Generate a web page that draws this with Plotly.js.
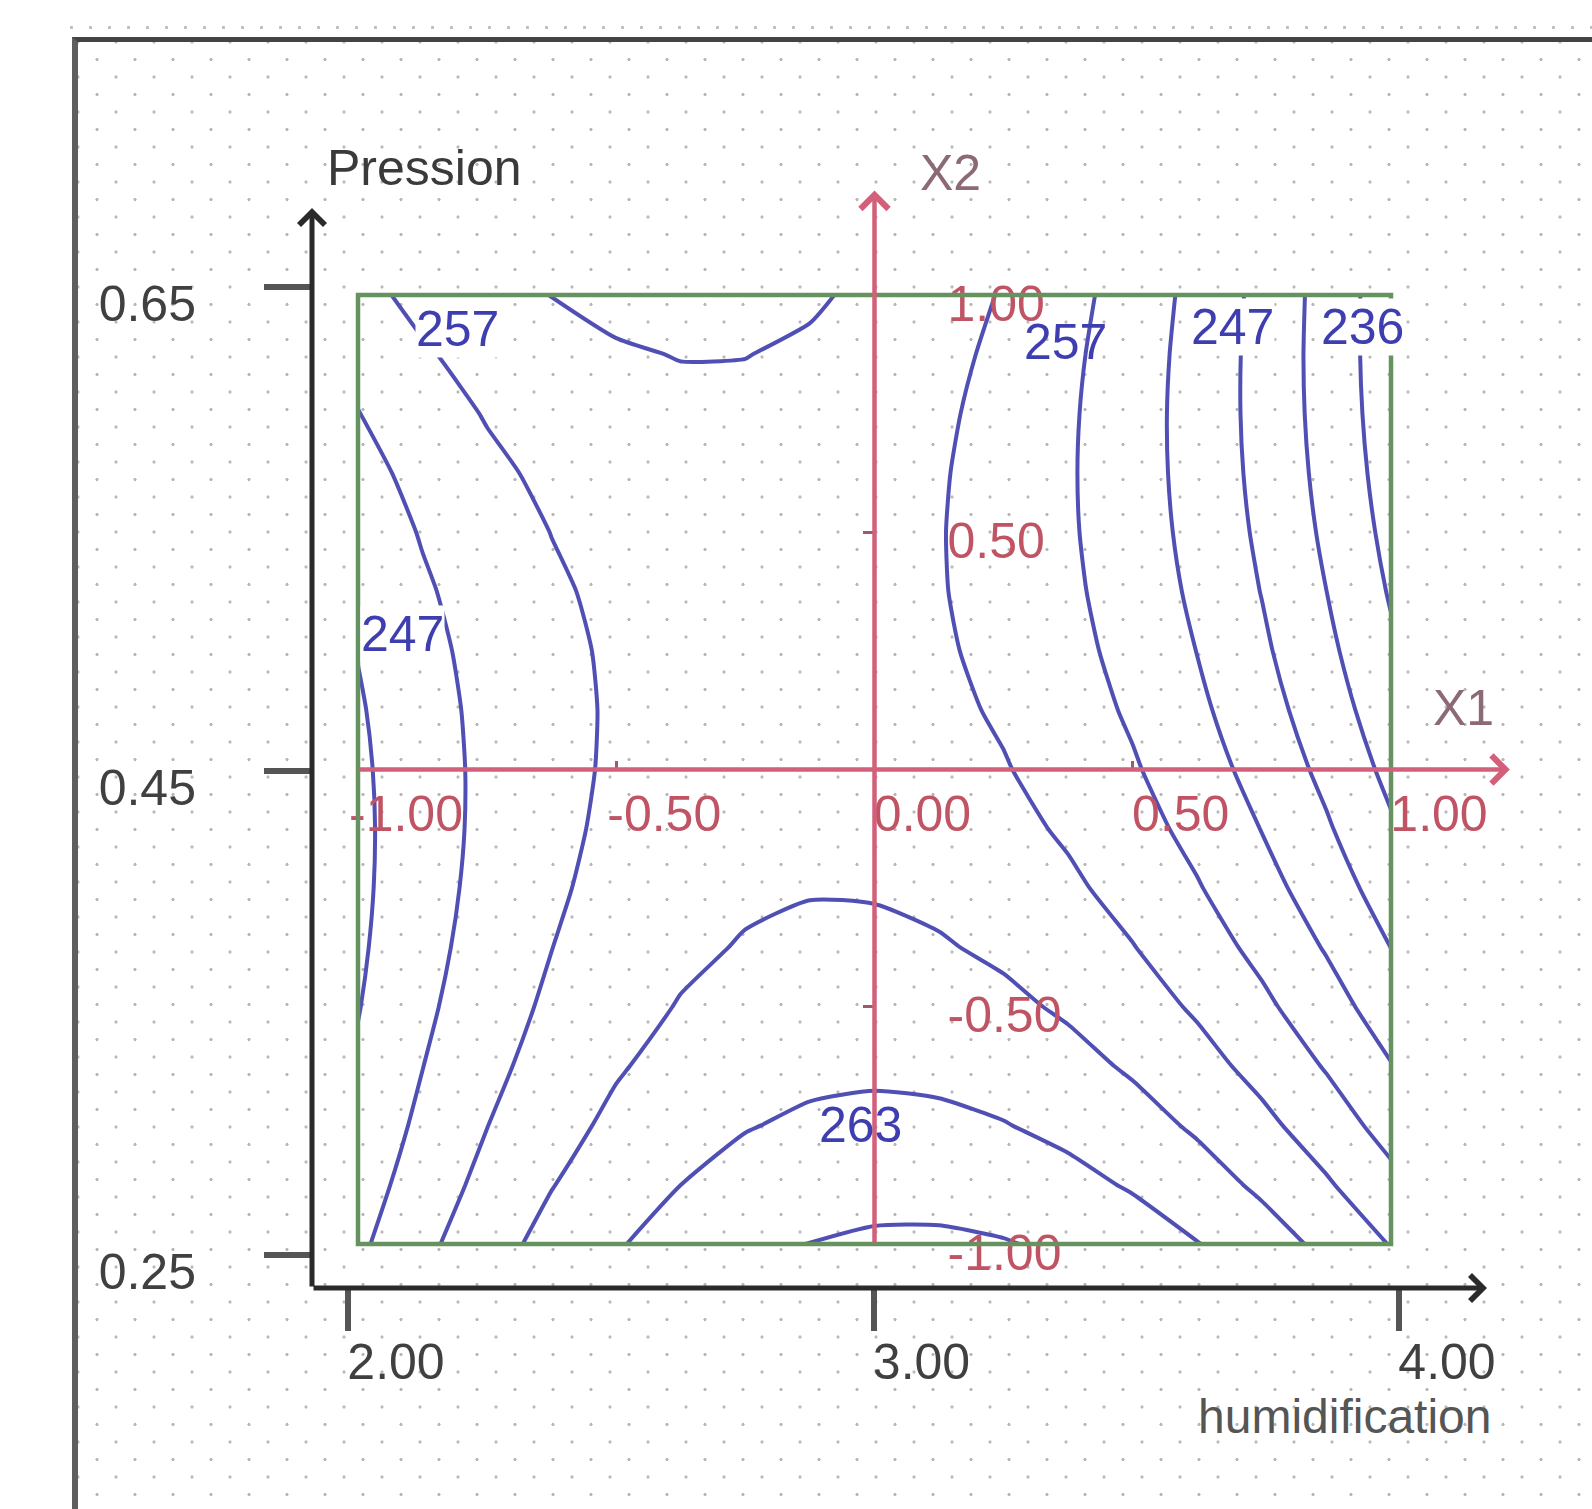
<!DOCTYPE html>
<html>
<head>
<meta charset="utf-8">
<script src="https://cdn.plot.ly/plotly-3.0.1.min.js"></script>
<style>
html,body{margin:0;padding:0;background:#ffffff;width:1592px;height:1509px;overflow:hidden;}
#topdots{position:absolute;left:62px;top:25px;width:1530px;height:5px;
  background-image:radial-gradient(circle,#bdbdbd 1.3px,rgba(255,255,255,0) 1.9px);
  background-size:19px 5px;}
#bg{position:absolute;left:72px;top:37px;width:1520px;height:1472px;box-sizing:border-box;
  border-left:6px solid #5e5e5e;border-top:5px solid #444444;
  background-image:radial-gradient(circle,#b8b8b8 1.3px,rgba(255,255,255,0) 1.9px),
                   radial-gradient(circle,#b8b8b8 1.3px,rgba(255,255,255,0) 1.9px);
  background-size:38px 35px;background-position:0 0,19px 17.5px;}
#chart{position:absolute;left:0;top:0;width:1592px;height:1509px;}
</style>
</head>
<body>
<div id="topdots"></div>
<div id="bg"></div>
<div id="chart"></div>
<script>
// ---------------- data ----------------
// coded factor levels of the grid
const x1Coded = [-1, -0.875, -0.75, -0.625, -0.5, -0.375, -0.25, -0.125, 0,
                 0.125, 0.25, 0.375, 0.5, 0.625, 0.75, 0.875, 1];
const x2Coded = [-1, -0.875, -0.75, -0.625, -0.5, -0.375, -0.25, -0.125, 0,
                 0.125, 0.25, 0.375, 0.5, 0.625, 0.75, 0.875, 1];
// estimated response at each grid node (rows: x2 from -1 to 1, columns: x1 from -1 to 1)
const response = [
  [251.08, 256.08, 260.47, 264.24, 267.39, 269.92, 271.84, 273.14, 273.82, 273.89, 273.33, 272.16, 270.38, 267.97, 264.95, 261.32, 257.06],
  [249.61, 254.48, 258.73, 262.37, 265.39, 267.79, 269.57, 270.74, 271.29, 271.23, 270.54, 269.24, 267.32, 264.79, 261.63, 257.86, 253.48],
  [248.37, 253.11, 257.23, 260.74, 263.62, 265.89, 267.55, 268.58, 269.00, 268.80, 267.99, 266.55, 264.50, 261.84, 258.55, 254.65, 250.13],
  [247.37, 251.98, 255.97, 259.34, 262.10, 264.23, 265.75, 266.66, 266.95, 266.61, 265.67, 264.10, 261.92, 259.12, 255.70, 251.67, 247.02],
  [246.61, 251.08, 254.94, 258.18, 260.80, 262.81, 264.20, 264.97, 265.13, 264.66, 263.58, 261.89, 259.57, 256.64, 253.09, 248.93, 244.15],
  [246.08, 250.42, 254.14, 257.25, 259.75, 261.62, 262.88, 263.52, 263.54, 262.95, 261.73, 259.91, 257.46, 254.40, 250.72, 246.42, 241.51],
  [245.78, 249.99, 253.59, 256.56, 258.92, 260.67, 261.79, 262.30, 262.19, 261.47, 260.12, 258.16, 255.58, 252.39, 248.58, 244.15, 239.10],
  [245.72, 249.80, 253.26, 256.11, 258.34, 259.95, 260.94, 261.32, 261.08, 260.22, 258.74, 256.65, 253.94, 250.62, 246.67, 242.11, 236.93],
  [245.90, 249.85, 253.18, 255.89, 257.99, 259.47, 260.33, 260.57, 260.20, 259.21, 257.60, 255.38, 252.54, 249.08, 245.00, 240.31, 235.00],
  [246.31, 250.13, 253.33, 255.91, 257.87, 259.22, 259.95, 260.06, 259.56, 258.44, 256.70, 254.34, 251.37, 247.78, 243.57, 238.74, 233.30],
  [246.96, 250.65, 253.71, 256.16, 257.99, 259.21, 259.81, 259.79, 259.15, 257.90, 256.03, 253.54, 250.43, 246.71, 242.37, 237.42, 231.84],
  [247.85, 251.40, 254.33, 256.65, 258.35, 259.43, 259.90, 259.75, 258.98, 257.59, 255.59, 252.97, 249.74, 245.88, 241.41, 236.32, 230.62],
  [248.97, 252.39, 255.19, 257.37, 258.94, 259.89, 260.23, 259.95, 259.05, 257.53, 255.39, 252.64, 249.27, 245.29, 240.68, 235.46, 229.63],
  [250.32, 253.61, 256.28, 258.33, 259.77, 260.59, 260.79, 260.38, 259.35, 257.70, 255.43, 252.55, 249.05, 244.93, 240.19, 234.84, 228.87],
  [251.91, 255.07, 257.61, 259.53, 260.83, 261.52, 261.59, 261.05, 259.88, 258.10, 255.70, 252.69, 249.05, 244.80, 239.94, 234.45, 228.35],
  [253.74, 256.76, 259.17, 260.96, 262.13, 262.69, 262.63, 261.95, 260.65, 258.74, 256.21, 253.06, 249.30, 244.92, 239.92, 234.30, 228.07],
  [255.80, 258.69, 260.97, 262.63, 263.67, 264.09, 263.90, 263.09, 261.66, 259.62, 256.95, 253.67, 249.78, 245.26, 240.13, 234.39, 228.02]
];
// iso-response levels
const contourLevels = [231.05, 236.3, 241.55, 246.8, 252.05, 257.3, 262.55, 267.8, 273.05];
// tick values
const codedTicksX1 = [-1, -0.5, 0, 0.5, 1];
const codedTicksX2 = [-1, -0.5, 0.5, 1];
const humidTicks = [2, 3, 4];
const pressionTicks = [0.25, 0.45, 0.65];
// texts
const xTitle = 'humidification';
const yTitle = 'Pression';
const x1Name = 'X1';
const x2Name = 'X2';

// ---------------- geometry of the page ----------------
const W = 1592, H = 1509;
const P = {l: 312, r: 1513, t: 188, b: 1288};      // plotting area (px)
const F = {l: 358, r: 1391, t: 295, b: 1244};      // coded domain frame (px)
const cx = (F.r - F.l) / 2, cy = (F.b - F.t) / 2;
const xr = [-1 - (F.l - P.l) / cx, 1 + (P.r - F.r) / cx];
const yr = [-1 - (P.b - F.b) / cy, 1 + (F.t - P.t) / cy];
const hx = {v0: 2, p0: 348, v1: 4, p1: 1399};
const hppu = (hx.p1 - hx.p0) / (hx.v1 - hx.v0);
const x2r = [hx.v0 - (hx.p0 - P.l) / hppu, hx.v1 + (P.r - hx.p1) / hppu];
const pv = {v0: 0.25, p0: 1255, v1: 0.65, p1: 287};
const pppu = (pv.p0 - pv.p1) / (pv.v1 - pv.v0);
const y2r = [pv.v0 - (P.b - pv.p0) / pppu, pv.v1 + (pv.p1 - P.t) / pppu];
const paperX = px => (px - P.l) / (P.r - P.l);
const paperY = py => (P.b - py) / (P.b - P.t);

const FONT = "'Liberation Sans',Arial,sans-serif";
const FS = 50;
const BLUE = '#5050b4', BLUE_TXT = '#3e3eb0';
const RED = '#d2607a', RED_TXT = '#c05464';
const DARK = '#404040';
const fmt2 = v => v.toFixed(2);
const lvl = i => contourLevels[i].toFixed(0);

const traces = [
  {
    type: 'contour', x: x1Coded, y: x2Coded, z: response, xaxis: 'x', yaxis: 'y',
    contours: {start: contourLevels[0], end: contourLevels[contourLevels.length - 1],
               size: contourLevels[1] - contourLevels[0], coloring: 'none', showlabels: false},
    line: {color: BLUE, width: 4, smoothing: 0.6},
    showscale: false, hoverinfo: 'skip'
  },
  {
    type: 'scatter', x: humidTicks, y: pressionTicks, xaxis: 'x2', yaxis: 'y2',
    mode: 'markers', marker: {opacity: 0}, hoverinfo: 'skip', showlegend: false
  }
];

function contourLabel(text, x, y, bg) {
  return {text: text, x: x, y: y, xref: 'x', yref: 'y', showarrow: false,
          font: {family: FONT, size: FS, color: BLUE_TXT},
          bgcolor: bg, borderpad: 0, xanchor: 'center', yanchor: 'middle'};
}
function arrow(o) {
  return Object.assign({text: '', showarrow: true, arrowhead: 4}, o);
}

const annotations = [
  // red coded axes
  arrow({x: 1.23, y: 0, xref: 'x', yref: 'y', ax: -1, ay: 0, axref: 'x', ayref: 'y',
         arrowsize: 1.2, arrowwidth: 4.5, arrowcolor: RED}),
  arrow({x: 0, y: 1.22, xref: 'x', yref: 'y', ax: 0, ay: -1, axref: 'x', ayref: 'y',
         arrowsize: 1.2, arrowwidth: 4.5, arrowcolor: RED}),
  // black real axes
  arrow({x: paperX(1487), y: 0, xref: 'paper', yref: 'paper', ax: -(1487 - P.l), ay: 0,
         arrowsize: 1.0, arrowwidth: 5, arrowcolor: '#2a2a2a'}),
  arrow({x: 0, y: paperY(208), xref: 'paper', yref: 'paper', ax: 0, ay: (P.b - 208),
         arrowsize: 1.0, arrowwidth: 5, arrowcolor: '#2a2a2a'}),
  // titles
  {text: yTitle, x: paperX(325), y: paperY(168), xref: 'paper', yref: 'paper', showarrow: false,
   xanchor: 'left', yanchor: 'middle', font: {family: FONT, size: FS, color: '#3a3a3a'}},
  {text: xTitle, x: paperX(1493), y: paperY(1416), xref: 'paper', yref: 'paper', showarrow: false,
   xanchor: 'right', yanchor: 'middle', font: {family: FONT, size: 48, color: '#555555'}},
  {text: x2Name, x: paperX(918), y: paperY(173), xref: 'paper', yref: 'paper', showarrow: false,
   xanchor: 'left', yanchor: 'middle', font: {family: FONT, size: FS, color: '#8c6a74'}},
  {text: x1Name, x: paperX(1431), y: paperY(708), xref: 'paper', yref: 'paper', showarrow: false,
   xanchor: 'left', yanchor: 'middle', font: {family: FONT, size: FS, color: '#8c6a74'}},
  // iso-response labels
  contourLabel(lvl(5), -0.808, 0.928, '#ffffff'),
  contourLabel(lvl(3), -0.913, 0.286, '#ffffff'),
  contourLabel(lvl(5), 0.37, 0.90, 'rgba(255,255,255,0)'),
  contourLabel(lvl(3), 0.694, 0.933, '#ffffff'),
  contourLabel(lvl(1), 0.944, 0.933, '#ffffff'),
  contourLabel(lvl(6), -0.028, -0.749, 'rgba(255,255,255,0)')
];

const layout = {
  width: W, height: H, autosize: false,
  margin: {l: P.l, r: W - P.r, t: P.t, b: H - P.b, pad: 0},
  paper_bgcolor: 'rgba(0,0,0,0)', plot_bgcolor: 'rgba(0,0,0,0)',
  showlegend: false,
  font: {family: FONT, size: FS, color: DARK},
  xaxis: {
    range: xr, anchor: 'free', position: (0 - yr[0]) / (yr[1] - yr[0]), side: 'bottom',
    showgrid: false, zeroline: false, showline: false, fixedrange: true,
    tickmode: 'array', tickvals: codedTicksX1, ticktext: codedTicksX1.map(fmt2),
    ticks: 'inside', ticklen: 9, tickwidth: 3, tickcolor: '#a05a66',
    tickfont: {family: FONT, size: FS, color: RED_TXT},
    ticklabelshift: 48, ticklabelstandoff: 10
  },
  yaxis: {
    range: yr, anchor: 'free', position: (0 - xr[0]) / (xr[1] - xr[0]), side: 'right',
    showgrid: false, zeroline: false, showline: false, fixedrange: true,
    tickmode: 'array', tickvals: codedTicksX2, ticktext: codedTicksX2.map(fmt2),
    ticks: 'inside', ticklen: 12, tickwidth: 3, tickcolor: '#a05a66',
    tickfont: {family: FONT, size: FS, color: RED_TXT},
    ticklabelshift: 8, ticklabelstandoff: 72
  },
  xaxis2: {
    range: x2r, overlaying: 'x', anchor: 'y2', side: 'bottom',
    showgrid: false, zeroline: false, showline: false, fixedrange: true,
    tickmode: 'array', tickvals: humidTicks, ticktext: humidTicks.map(fmt2),
    ticks: 'outside', ticklen: 42, tickwidth: 6, tickcolor: '#555555',
    tickfont: {family: FONT, size: FS, color: DARK},
    ticklabelshift: 48, ticklabelstandoff: -12
  },
  yaxis2: {
    range: y2r, overlaying: 'y', anchor: 'x2', side: 'left',
    showgrid: false, zeroline: false, showline: false, fixedrange: true,
    tickmode: 'array', tickvals: pressionTicks, ticktext: pressionTicks.map(fmt2),
    ticks: 'outside', ticklen: 47, tickwidth: 6, tickcolor: '#555555',
    tickfont: {family: FONT, size: FS, color: DARK},
    ticklabelshift: 16, ticklabelstandoff: 58
  },
  shapes: [
    {type: 'rect', xref: 'x', yref: 'y', x0: -1, x1: 1, y0: -1, y1: 1,
     line: {color: '#66925f', width: 4.5}, layer: 'above'}
  ],
  annotations: annotations
};

Plotly.newPlot('chart', traces, layout, {staticPlot: true, displayModeBar: false});
</script>
</body>
</html>
